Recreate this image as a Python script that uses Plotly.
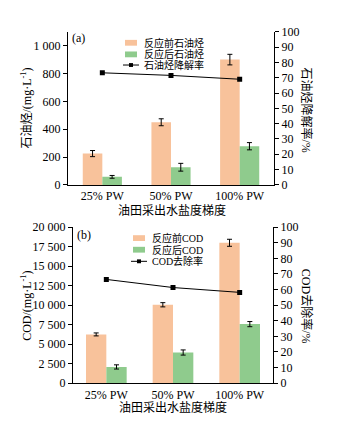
import plotly.graph_objects as go

# ---------------- data ----------------
categories = ["25% PW", "50% PW", "100% PW"]

oil_before = [225, 450, 900]
oil_before_err = [22, 25, 38]
oil_after = [58, 127, 278]
oil_after_err = [10, 28, 26]
oil_rate = [73.2, 71.5, 69.0]

cod_before = [6250, 10050, 18000]
cod_before_err = [190, 270, 450]
cod_after = [2080, 3930, 7570]
cod_after_err = [270, 330, 330]
cod_rate = [66.5, 61.3, 58.2]

oil_ticks = [0, 200, 400, 600, 800, 1000]
oil_ticktext = ["0", "200", "400", "600", "800", "1 000"]
cod_ticks = [0, 2500, 5000, 7500, 10000, 12500, 15000, 17500, 20000]
cod_ticktext = ["0", "2 500", "5 000", "7 500", "10 000", "12 500", "15 000", "17 500", "20 000"]
rate_ticks = [0, 10, 20, 30, 40, 50, 60, 70, 80, 90, 100]

legend_a = ["反应前石油烃", "反应后石油烃", "石油烃降解率"]
legend_b = ["反应前COD", "反应后COD", "COD去除率"]

# ---------------- style ----------------
W, H = 344, 424
ORANGE = "#F8C29B"
GREEN = "#8FCB8D"
FONT = "Liberation Serif, Noto Sans CJK SC, serif"


def px(x):
    return x / W


def py(y):
    return 1 - y / H


fig = go.Figure()

err_style = dict(type="data", color="black", thickness=1, width=2.5, visible=True)

# top panel
fig.add_trace(go.Bar(x=categories, y=oil_before, width=0.285, offset=-0.285,
                     marker=dict(color=ORANGE, line=dict(width=0)),
                     error_y=dict(array=oil_before_err, **err_style),
                     xaxis="x", yaxis="y", showlegend=False))
fig.add_trace(go.Bar(x=categories, y=oil_after, width=0.285, offset=0,
                     marker=dict(color=GREEN, line=dict(width=0)),
                     error_y=dict(array=oil_after_err, **err_style),
                     xaxis="x", yaxis="y", showlegend=False))
fig.add_trace(go.Scatter(x=categories, y=oil_rate, mode="lines+markers",
                         line=dict(color="black", width=1),
                         marker=dict(symbol="square", size=5, color="black"),
                         xaxis="x", yaxis="y2", showlegend=False))

# bottom panel
fig.add_trace(go.Bar(x=categories, y=cod_before, width=0.305, offset=-0.305,
                     marker=dict(color=ORANGE, line=dict(width=0)),
                     error_y=dict(array=cod_before_err, **err_style),
                     xaxis="x2", yaxis="y3", showlegend=False))
fig.add_trace(go.Bar(x=categories, y=cod_after, width=0.305, offset=0,
                     marker=dict(color=GREEN, line=dict(width=0)),
                     error_y=dict(array=cod_after_err, **err_style),
                     xaxis="x2", yaxis="y3", showlegend=False))
fig.add_trace(go.Scatter(x=categories, y=cod_rate, mode="lines+markers",
                         line=dict(color="black", width=1),
                         marker=dict(symbol="square", size=5, color="black"),
                         xaxis="x2", yaxis="y4", showlegend=False))

tickfont = dict(family=FONT, size=12, color="black")
xcommon = dict(type="category", range=[-0.5, 2.5], showline=True, linecolor="black",
               linewidth=1, ticks="", tickfont=tickfont, showgrid=False,
               zeroline=False, fixedrange=True)
ycommon = dict(showline=True, linecolor="black", linewidth=1, ticks="outside",
               ticklen=4, tickcolor="black", tickwidth=1, tickfont=tickfont,
               showgrid=False, zeroline=False, fixedrange=True)

fig.update_layout(
    width=W, height=H,
    margin=dict(l=0, r=0, t=0, b=0),
    paper_bgcolor="white", plot_bgcolor="white",
    font=dict(family=FONT, size=12, color="black"),
    showlegend=False,
    xaxis=dict(domain=[px(68), px(274)], anchor="y", **xcommon),
    yaxis=dict(domain=[py(184), py(25.6)], anchor="x", range=[0, 1100],
               tickvals=oil_ticks, ticktext=oil_ticktext, **ycommon),
    yaxis2=dict(overlaying="y", side="right", anchor="x", range=[0, 100],
                tickvals=rate_ticks, **ycommon),
    xaxis2=dict(domain=[px(73), px(273)], anchor="y3", **xcommon),
    yaxis3=dict(domain=[py(389), py(227.7)], anchor="x2", range=[0, 20000],
                tickvals=cod_ticks, ticktext=cod_ticktext, **ycommon),
    yaxis4=dict(overlaying="y3", side="right", anchor="x2", range=[0, 100],
                tickvals=rate_ticks, **ycommon),
)

ann = []
shapes = []


def text(x, y, s, size=12, angle=0, xanchor="center"):
    ann.append(dict(x=px(x), y=py(y), xref="paper", yref="paper", text=s,
                    showarrow=False, textangle=angle, xanchor=xanchor,
                    yanchor="middle", font=dict(family=FONT, size=size, color="black")))


# axis titles
text(27, 105, "石油烃/(mg·L<sup>-1</sup>)", angle=-90)
text(306, 106, "石油烃降解率/%", angle=90)
text(172, 210, "油田采出水盐度梯度")
text(27, 309, "COD/(mg·L<sup>-1</sup>)", angle=-90)
text(306, 309, "COD去除率/%", angle=90)
text(173, 414, "油田采出水盐度梯度")

# panel labels
text(70, 32, "(a)", xanchor="left")
text(75, 236, "(b)", xanchor="left")


def legend(x0, xt, ys, labels):
    shapes.append(dict(type="rect", xref="paper", yref="paper",
                       x0=px(x0), x1=px(x0 + 12), y0=py(ys[0] - 3), y1=py(ys[0] + 3),
                       fillcolor=ORANGE, line=dict(width=0)))
    shapes.append(dict(type="rect", xref="paper", yref="paper",
                       x0=px(x0), x1=px(x0 + 12), y0=py(ys[1] - 3), y1=py(ys[1] + 3),
                       fillcolor=GREEN, line=dict(width=0)))
    shapes.append(dict(type="line", xref="paper", yref="paper",
                       x0=px(x0 - 2), x1=px(x0 + 14), y0=py(ys[2]), y1=py(ys[2]),
                       line=dict(color="black", width=1)))
    shapes.append(dict(type="rect", xref="paper", yref="paper",
                       x0=px(x0 + 4), x1=px(x0 + 8), y0=py(ys[2] - 2), y1=py(ys[2] + 2),
                       fillcolor="black", line=dict(width=0)))
    for yy, lab in zip(ys, labels):
        text(xt, yy, lab, size=10, xanchor="left")


legend(125, 142, [37, 49, 60], legend_a)
legend(133, 150, [239, 251, 263], legend_b)

fig.update_layout(annotations=ann, shapes=shapes)
fig.write_html("out.html")
